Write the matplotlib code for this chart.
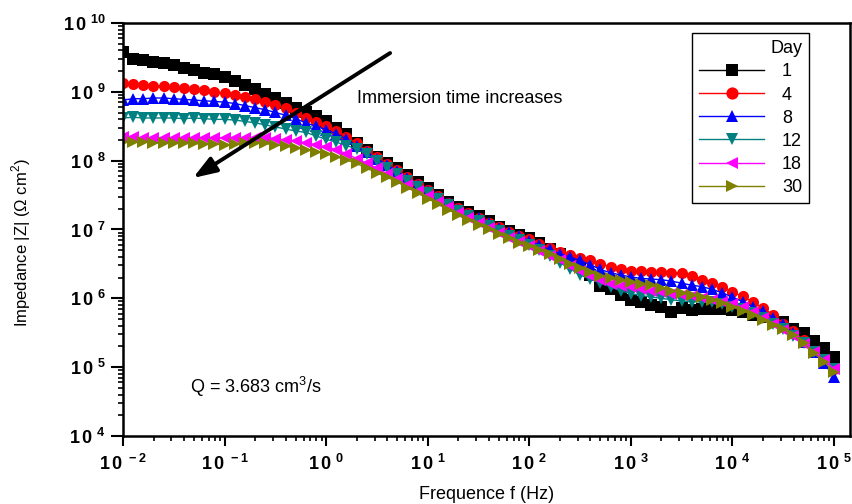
import numpy as np
from matplotlib import pyplot as plt
from matplotlib.ticker import FixedLocator, LogLocator, NullFormatter

plt.rcParams['font.family'] = ['Liberation Sans', 'DejaVu Sans']
plt.rcParams['mathtext.fontset'] = 'custom'
plt.rcParams['mathtext.rm'] = 'Liberation Sans'
plt.rcParams['mathtext.bf'] = 'Liberation Sans:bold'

# frequency grid, 10 points per decade (log10 f from -2 to 5)
log_f = np.round(np.arange(-2.0, 5.01, 0.1), 1)
freq = 10.0 ** log_f

# log10 |Z|, one value per frequency point
day1 = [9.58, 9.48, 9.46, 9.44, 9.42, 9.39, 9.35, 9.31, 9.27, 9.26,
        9.22, 9.16, 9.10, 9.04, 8.97, 8.91, 8.84, 8.77, 8.70, 8.65,
        8.58, 8.48, 8.38, 8.26, 8.15, 8.06, 7.97, 7.89, 7.79, 7.69,
        7.60, 7.50, 7.40, 7.32, 7.25, 7.19, 7.12, 7.04, 6.98, 6.92,
        6.88, 6.80, 6.72, 6.64, 6.56, 6.48, 6.34, 6.18, 6.13, 6.05,
        5.98, 5.95, 5.90, 5.88, 5.80, 5.86, 5.83, 5.85, 5.85, 5.84,
        5.83, 5.80, 5.76, 5.73, 5.69, 5.66, 5.56, 5.50, 5.38, 5.28,
        5.15]
day4 = [9.13, 9.11, 9.10, 9.09, 9.08, 9.07, 9.05, 9.04, 9.02, 9.00,
        8.98, 8.96, 8.93, 8.89, 8.85, 8.81, 8.76, 8.69, 8.62, 8.56,
        8.50, 8.43, 8.35, 8.25, 8.14, 8.05, 7.95, 7.86, 7.76, 7.66,
        7.57, 7.48, 7.39, 7.31, 7.24, 7.17, 7.10, 7.03, 6.97, 6.91,
        6.86, 6.79, 6.73, 6.68, 6.63, 6.59, 6.55, 6.50, 6.46, 6.43,
        6.40, 6.39, 6.38, 6.38, 6.37, 6.37, 6.32, 6.27, 6.22, 6.17,
        6.09, 6.03, 5.95, 5.86, 5.76, 5.63, 5.52, 5.39, 5.24, 5.10,
        4.98]
day8 = [8.88, 8.90, 8.90, 8.91, 8.91, 8.90, 8.89, 8.88, 8.87, 8.86,
        8.85, 8.83, 8.80, 8.77, 8.74, 8.70, 8.66, 8.61, 8.55, 8.50,
        8.45, 8.39, 8.31, 8.22, 8.12, 8.03, 7.94, 7.85, 7.75, 7.65,
        7.56, 7.47, 7.38, 7.30, 7.23, 7.16, 7.09, 7.02, 6.96, 6.90,
        6.84, 6.77, 6.71, 6.65, 6.60, 6.55, 6.49, 6.42, 6.37, 6.34,
        6.31, 6.29, 6.28, 6.27, 6.25, 6.22, 6.19, 6.17, 6.13, 6.08,
        6.02, 5.95, 5.88, 5.81, 5.72, 5.62, 5.50, 5.37, 5.22, 5.06,
        4.86]
day12 = [8.62, 8.63, 8.62, 8.62, 8.62, 8.62, 8.61, 8.62, 8.61, 8.60,
         8.60, 8.59, 8.57, 8.55, 8.52, 8.49, 8.46, 8.43, 8.41, 8.36,
         8.31, 8.27, 8.22, 8.17, 8.09, 8.00, 7.90, 7.80, 7.71, 7.62,
         7.53, 7.44, 7.35, 7.27, 7.20, 7.12, 7.05, 6.98, 6.91, 6.85,
         6.78, 6.70, 6.61, 6.52, 6.43, 6.34, 6.28, 6.22, 6.17, 6.11,
         6.07, 6.04, 6.02, 6.00, 5.98, 5.96, 5.95, 5.95, 5.94, 5.92,
         5.88, 5.84, 5.79, 5.72, 5.63, 5.55, 5.45, 5.35, 5.22, 5.10,
         4.98]
day18 = [8.34, 8.34, 8.33, 8.33, 8.33, 8.33, 8.33, 8.33, 8.33, 8.33,
         8.33, 8.33, 8.33, 8.33, 8.33, 8.32, 8.30, 8.28, 8.26, 8.23,
         8.20, 8.16, 8.10, 8.03, 7.96, 7.89, 7.81, 7.73, 7.64, 7.56,
         7.48, 7.40, 7.32, 7.24, 7.17, 7.10, 7.02, 6.95, 6.88, 6.82,
         6.76, 6.69, 6.62, 6.55, 6.47, 6.40, 6.33, 6.26, 6.21, 6.18,
         6.16, 6.13, 6.11, 6.09, 6.07, 6.05, 6.04, 6.01, 5.98, 5.95,
         5.92, 5.87, 5.80, 5.72, 5.63, 5.54, 5.45, 5.34, 5.22, 5.10,
         4.98]
day30 = [8.27, 8.27, 8.27, 8.26, 8.26, 8.26, 8.25, 8.25, 8.24, 8.24,
         8.23, 8.24, 8.25, 8.26, 8.25, 8.23, 8.21, 8.19, 8.16, 8.13,
         8.10, 8.06, 8.01, 7.96, 7.89, 7.82, 7.76, 7.69, 7.61, 7.53,
         7.45, 7.37, 7.29, 7.21, 7.14, 7.07, 7.01, 6.94, 6.87, 6.81,
         6.76, 6.70, 6.64, 6.57, 6.50, 6.44, 6.38, 6.33, 6.29, 6.26,
         6.24, 6.21, 6.19, 6.15, 6.11, 6.08, 6.05, 6.02, 5.98, 5.93,
         5.88, 5.82, 5.76, 5.68, 5.61, 5.55, 5.47, 5.35, 5.21, 5.08,
         4.93]

days = ['1', '4', '8', '12', '18', '30']
series = [day1, day4, day8, day12, day18, day30]
colors = ['#000000', '#ff0000', '#0000ff', '#008080', '#ff00ff', '#808000']
markers = ['s', 'o', '^', 'v', '<', '>']

fig = plt.figure(figsize=(8.52, 5.04), dpi=100)
ax = fig.add_axes([0.1444, 0.1349, 0.8533, 0.8195])

for lbl, vals, c, m in zip(days, series, colors, markers):
    ax.plot(freq, 10.0 ** np.array(vals), color=c, marker=m, markersize=8,
            markeredgewidth=0, lw=1, label=lbl)

ax.set_xscale('log')
ax.set_yscale('log')
ax.set_xlim(1e-2, 10 ** 5.158)
ax.set_ylim(1e4, 1e10)

for sp in ax.spines.values():
    sp.set_linewidth(1.8)

ax.xaxis.set_major_locator(FixedLocator([10.0 ** k for k in range(-2, 6)]))
ax.yaxis.set_major_locator(FixedLocator([10.0 ** k for k in range(4, 11)]))
ax.xaxis.set_minor_locator(LogLocator(base=10, subs=np.arange(2, 10), numticks=20))
ax.yaxis.set_minor_locator(LogLocator(base=10, subs=np.arange(2, 10), numticks=20))
ax.xaxis.set_minor_formatter(NullFormatter())
ax.yaxis.set_minor_formatter(NullFormatter())


def fmt(v, pos=None):
    e = int(round(np.log10(v)))
    return r'$\mathbf{1\,0^{\ %d}}$' % e


ax.xaxis.set_major_formatter(fmt)
ax.yaxis.set_major_formatter(fmt)
ax.tick_params(which='major', direction='out', length=7, width=1.5, labelsize=13)
ax.tick_params(which='minor', direction='out', length=3.5, width=1.2)
ax.tick_params(axis='y', which='major', length=9)
ax.tick_params(axis='x', pad=6)

ax.set_xlabel('Frequence f (Hz)', fontsize=13)
ax.xaxis.set_label_coords(0.5, -0.12)
ax.set_ylabel(r'Impedance |Z| ($\Omega$ cm$^2$)', fontsize=12)
ax.yaxis.set_label_coords(-0.124, 0.467)

ax.text(2.0, 8.1e8, 'Immersion time increases', fontsize=13, va='center')
ax.text(0.0457, 10 ** 4.71, r'Q = 3.683 cm$^3$/s', fontsize=13, va='center')
ax.annotate('', xy=(0.0489, 5.6e7), xytext=(4.26, 3.66e9),
            arrowprops=dict(arrowstyle='-|>,head_length=1.4,head_width=0.5',
                            color='black', lw=2.8, shrinkA=0, shrinkB=0))

leg = ax.legend(title='Day', loc='upper left', bbox_to_anchor=(0.812, 0.9345),
                bbox_transform=fig.transFigure, fontsize=13, title_fontsize=13,
                frameon=True, fancybox=False, framealpha=1, handlelength=3.6,
                labelspacing=0.34, borderpad=0.4, handletextpad=1.0,
                borderaxespad=0, markerscale=1.1, alignment='right')
leg.get_frame().set_edgecolor('black')
leg.get_frame().set_linewidth(1.0)

plt.savefig('out.png', dpi=100)
